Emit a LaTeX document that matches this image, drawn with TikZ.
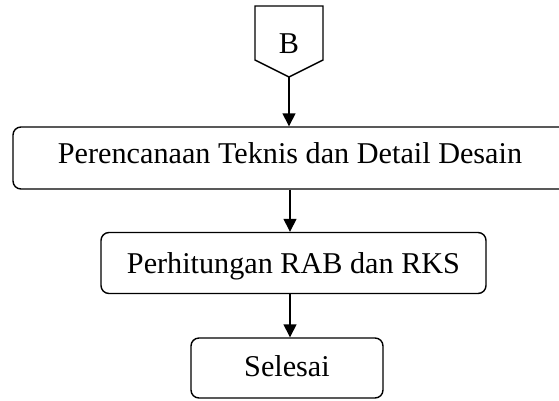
\documentclass[tikz,border=0pt]{standalone}
\usepackage{fontspec}
\setmainfont{Liberation Serif}
\usetikzlibrary{arrows.meta}
\begin{document}
\begin{tikzpicture}[x=1pt,y=-1pt,
  lbl/.style={font=\fontsize{30.2}{36}\selectfont, inner sep=0pt, text height=20pt},
  box/.style={lbl, draw, line width=1.4pt, rounded corners=8pt, anchor=center},
  conn/.style={line width=1.4pt, -{Triangle[length=13pt,width=13pt]}}]
\useasboundingbox (0,0) rectangle (559,400);
\clip (0,0) rectangle (559,400);
% off-page connector B
\draw[line width=1.4pt, line join=miter] (255,6) -- (323,6) -- (323,60) -- (289,77) -- (255,60) -- cycle;
\node[lbl, text depth=0pt] (B) at (289,43) {B};
\coordinate (Btip) at (289,77);
% process boxes
\node[box, text depth=8.8pt, minimum width=554pt, minimum height=62pt] (p1) at (290,158) {Perencanaan Teknis dan Detail Desain};
\node[box, text depth=0pt, minimum width=385pt, minimum height=61pt] (p2) at (293.5,263) {Perhitungan RAB dan RKS};
\node[box, text depth=3pt, minimum width=192pt, minimum height=60pt] (p3) at (287,368) {Selesai};
% connectors
\draw[conn] (Btip) -- (Btip |- p1.north);
\draw[conn] (p1.south) -- (p1.south |- p2.north);
\draw[conn] (p1.south |- p2.south) -- (p1.south |- p3.north);
\end{tikzpicture}
\end{document}
